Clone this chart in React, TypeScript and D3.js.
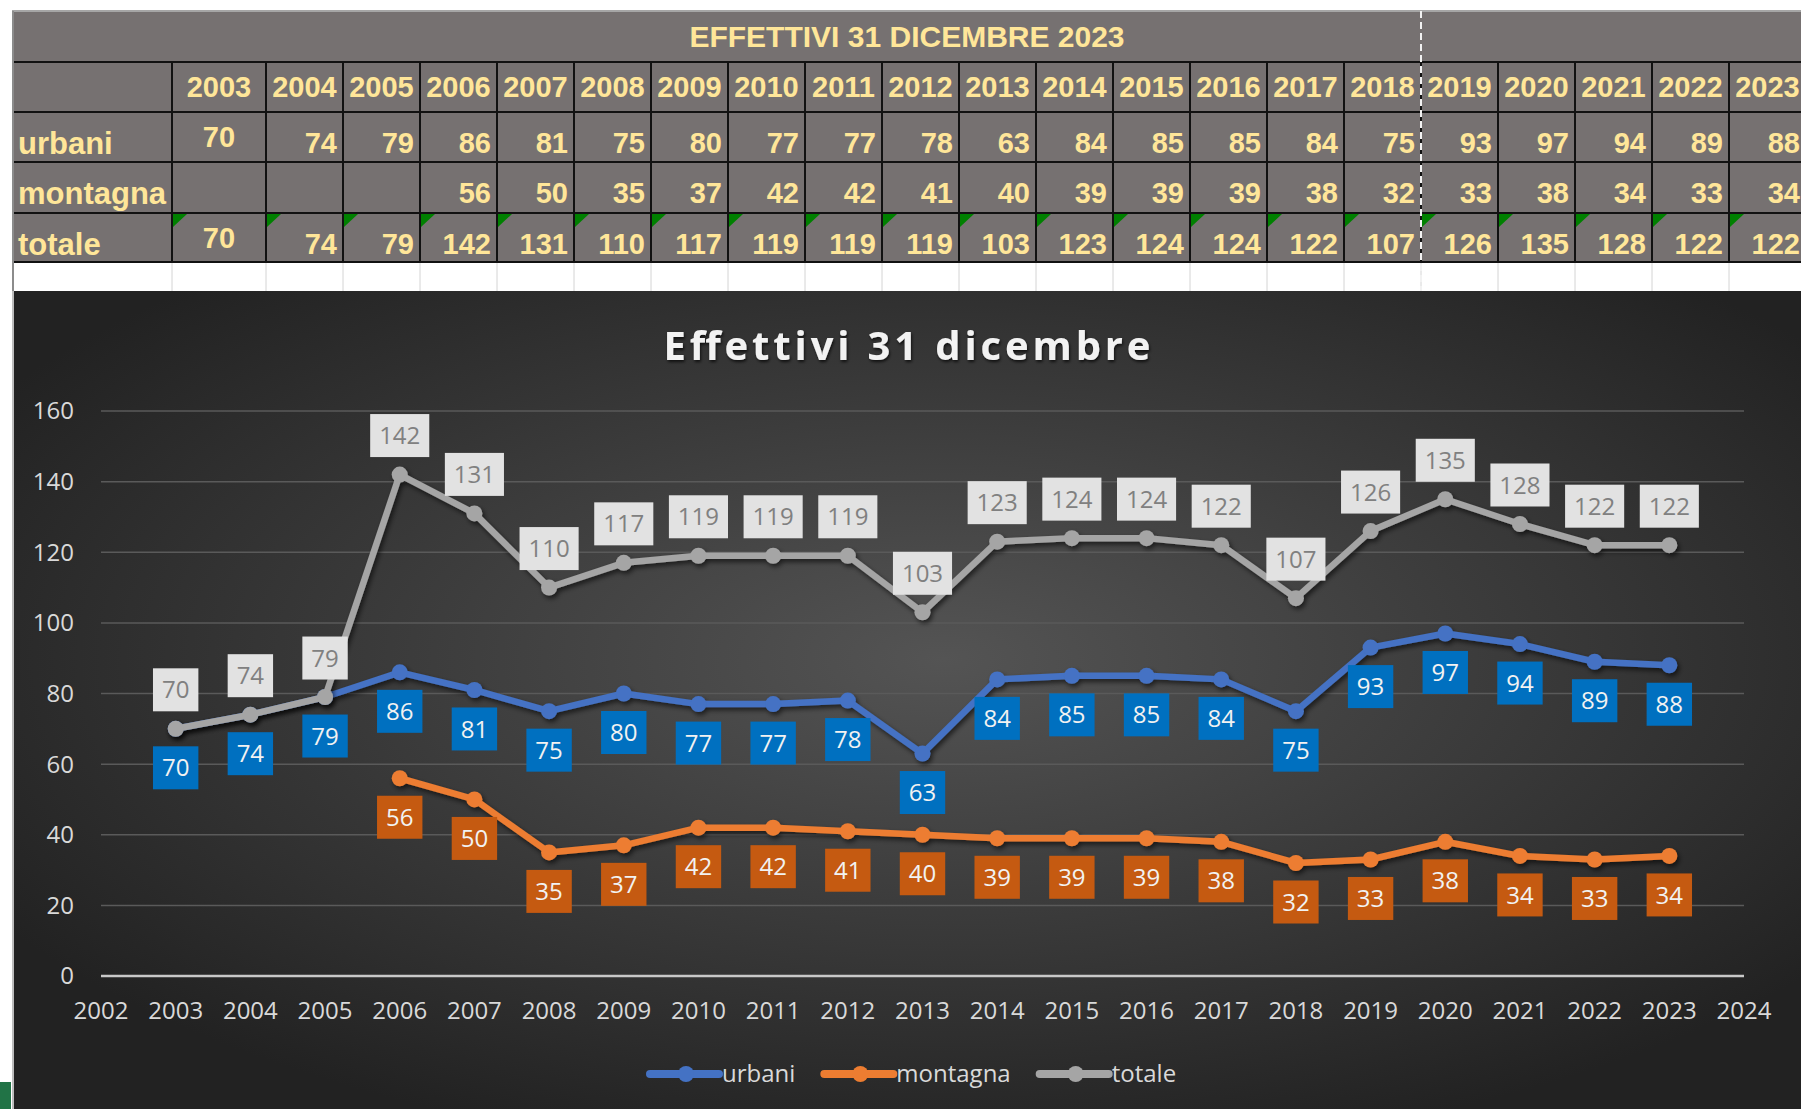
import React, { useEffect, useRef } from 'react'
import * as d3 from 'd3'

// data read from the sheet
const years = [2003, 2004, 2005, 2006, 2007, 2008, 2009, 2010, 2011, 2012, 2013, 2014, 2015, 2016, 2017, 2018, 2019, 2020, 2021, 2022, 2023]
const urbani = [70, 74, 79, 86, 81, 75, 80, 77, 77, 78, 63, 84, 85, 85, 84, 75, 93, 97, 94, 89, 88]
const montagna = [null, null, null, 56, 50, 35, 37, 42, 42, 41, 40, 39, 39, 39, 38, 32, 33, 38, 34, 33, 34]
const totale = [70, 74, 79, 142, 131, 110, 117, 119, 119, 119, 103, 123, 124, 124, 122, 107, 126, 135, 128, 122, 122]
const seriesNames = ['urbani', 'montagna', 'totale']
const yTicks = [0, 20, 40, 60, 80, 100, 120, 140, 160]
const xTicks = d3.range(2002, 2025)
const tableTitle = 'EFFETTIVI 31 DICEMBRE 2023'
const chartTitle = 'Effettivi 31 dicembre'

const lineColors = ['#4472C4', '#ED7D31', '#A5A5A5']
const labelFills = ['#0070C0', '#C55A11', '#E2E2E2']
const labelInk = ['#F2F2F2', '#F2F2F2', '#808080']

export default function App() {
    const ref = useRef<SVGSVGElement>(null)

    useEffect(() => {
        const W = 1801, H = 1109
        const svg = d3.select(ref.current)
        svg.selectAll('*').remove()

        const defs = svg.append('defs')
        const grad = defs.append('radialGradient').attr('id', 'bg')
            .attr('cx', '52%').attr('cy', '45%').attr('r', '62%')
        grad.append('stop').attr('offset', '0%').attr('stop-color', '#545454')
        grad.append('stop').attr('offset', '100%').attr('stop-color', '#222222')
        const sh = defs.append('filter').attr('id', 'shadow')
            .attr('x', '-5%').attr('y', '-20%').attr('width', '110%').attr('height', '140%')
        sh.append('feDropShadow').attr('dx', 2).attr('dy', 3).attr('stdDeviation', 2.5)
            .attr('flood-color', '#000').attr('flood-opacity', 0.6)
        const tsh = defs.append('filter').attr('id', 'tshadow')
        tsh.append('feDropShadow').attr('dx', 1).attr('dy', 2).attr('stdDeviation', 1.5)
            .attr('flood-color', '#000').attr('flood-opacity', 0.7)

        // ---------- spreadsheet table ----------
        const rows = [11, 62, 112, 162, 213, 262, 291]
        const labelLeft = 14
        const colLeft = (i: number) => i === 0 ? 172 : 266 + (i - 1) * 77
        const colRight = (i: number) => i === 0 ? 266 : 266 + i * 77
        const tFont = '"Liberation Sans", Arial, sans-serif'
        const ink = '#FFE699'
        const t = svg.append('g')

        t.append('rect').attr('x', labelLeft).attr('y', rows[0]).attr('width', W - labelLeft).attr('height', rows[5] - rows[0]).attr('fill', '#767171')
        t.append('rect').attr('x', labelLeft).attr('y', rows[5]).attr('width', W - labelLeft).attr('height', rows[6] - rows[5]).attr('fill', '#fff')
        t.append('line').attr('x1', 12).attr('x2', W).attr('y1', rows[0]).attr('y2', rows[0]).attr('stroke', '#a6a6a6').attr('stroke-width', 2)
        t.append('line').attr('x1', 13).attr('x2', 13).attr('y1', rows[0]).attr('y2', rows[6]).attr('stroke', '#8c8c8c').attr('stroke-width', 2)

        // light grid in the empty white row
        years.forEach((_, i) => {
            t.append('line').attr('x1', colLeft(i)).attr('x2', colLeft(i)).attr('y1', rows[5]).attr('y2', rows[6]).attr('stroke', '#d4d4d4')
        })
        // black cell borders
        for (let r = 1; r <= 5; r++) {
            t.append('line').attr('x1', labelLeft).attr('x2', W).attr('y1', rows[r]).attr('y2', rows[r]).attr('stroke', '#111').attr('stroke-width', 2)
        }
        years.forEach((_, i) => {
            t.append('line').attr('x1', colLeft(i)).attr('x2', colLeft(i)).attr('y1', rows[1]).attr('y2', rows[5]).attr('stroke', '#111').attr('stroke-width', 2)
        })

        t.append('text').attr('x', 907).attr('y', 47).attr('text-anchor', 'middle')
            .attr('font-family', tFont).attr('font-weight', 'bold').attr('font-size', 30).attr('fill', ink).text(tableTitle)

        years.forEach((yr, i) => {
            const cx = (colLeft(i) + colRight(i)) / 2
            t.append('text').attr('x', cx).attr('y', 97).attr('text-anchor', 'middle')
                .attr('font-family', tFont).attr('font-weight', 'bold').attr('font-size', 29).attr('fill', ink).text(yr)
            // green error markers on the totale row
            const gx = colLeft(i) + 1, gy = rows[4] + 1
            t.append('path').attr('d', `M${gx},${gy}h14l-14,13z`).attr('fill', '#008000')
        })

        const rowVals = [urbani, montagna, totale]
        const rowBase = [153, 203, 254]
        seriesNames.forEach((name, r) => {
            t.append('text').attr('x', 18).attr('y', rowBase[r] + 1)
                .attr('font-family', tFont).attr('font-weight', 'bold').attr('font-size', 31).attr('fill', ink).text(name)
            rowVals[r].forEach((v, i) => {
                if (v == null) return
                const centred = i === 0
                t.append('text')
                    .attr('x', centred ? (colLeft(i) + colRight(i)) / 2 : colRight(i) - 6)
                    .attr('y', centred ? rowBase[r] - 6 : rowBase[r])
                    .attr('text-anchor', centred ? 'middle' : 'end')
                    .attr('font-family', tFont).attr('font-weight', 'bold').attr('font-size', 29).attr('fill', ink).text(v)
            })
        })

        // page break
        t.append('line').attr('x1', 1421).attr('x2', 1421).attr('y1', rows[0]).attr('y2', rows[6])
            .attr('stroke', '#f2f2f2').attr('stroke-width', 2).attr('stroke-dasharray', '7,4')

        // ---------- chart ----------
        const cTop = 291
        const cFont = '"Open Sans", "Noto Sans", sans-serif'
        const c = svg.append('g')
        c.append('rect').attr('x', 14).attr('y', cTop).attr('width', W - 14).attr('height', H - cTop).attr('fill', 'url(#bg)')
        c.append('line').attr('x1', 13).attr('x2', 13).attr('y1', cTop).attr('y2', H).attr('stroke', '#bdbdbd').attr('stroke-width', 2)
        c.append('rect').attr('x', 0).attr('y', 1082).attr('width', 11).attr('height', H - 1082).attr('fill', '#217346')

        c.append('text').attr('x', 907).attr('y', 360).attr('text-anchor', 'middle')
            .attr('font-family', cFont).attr('font-weight', 'bold').attr('font-size', 40)
            .attr('textLength', 487).attr('lengthAdjust', 'spacing')
            .attr('fill', '#F2F2F2').attr('filter', 'url(#tshadow)').text(chartTitle)

        const x = d3.scaleLinear().domain([2002, 2024]).range([101, 1744])
        const y = d3.scaleLinear().domain([0, 160]).range([976, 411])

        c.append('g').selectAll('line').data(yTicks.filter(d => d > 0)).join('line')
            .attr('x1', x(2002)).attr('x2', x(2024)).attr('y1', d => y(d)).attr('y2', d => y(d))
            .attr('stroke', '#5a5a5a').attr('stroke-width', 1.5)
        c.append('line').attr('x1', x(2002)).attr('x2', x(2024)).attr('y1', y(0)).attr('y2', y(0))
            .attr('stroke', '#c8c8c8').attr('stroke-width', 2.5)

        c.append('g').selectAll('text').data(yTicks).join('text')
            .attr('x', 74).attr('y', d => y(d)).attr('dy', '0.35em').attr('text-anchor', 'end')
            .attr('font-family', cFont).attr('font-size', 24).attr('fill', '#D9D9D9').text(d => d)
        c.append('g').selectAll('text').data(xTicks).join('text')
            .attr('x', d => x(d)).attr('y', 1011).attr('dy', '0.35em').attr('text-anchor', 'middle')
            .attr('font-family', cFont).attr('font-size', 24).attr('fill', '#D9D9D9').text(d => d)

        const series = seriesNames.map((name, k) => ({
            name, k,
            pts: years.map((yr, i) => ({ yr, v: rowVals[k][i] })).filter(p => p.v != null) as { yr: number, v: number }[]
        }))

        const line = d3.line<{ yr: number, v: number }>().x(d => x(d.yr)).y(d => y(d.v))
        series.forEach(s => {
            const g = c.append('g').attr('filter', 'url(#shadow)')
            g.append('path').attr('d', line(s.pts)).attr('fill', 'none')
                .attr('stroke', lineColors[s.k]).attr('stroke-width', 6.5).attr('stroke-linejoin', 'round')
            g.selectAll('circle').data(s.pts).join('circle')
                .attr('cx', d => x(d.yr)).attr('cy', d => y(d.v)).attr('r', 8).attr('fill', lineColors[s.k])
        })

        // data labels: totale above, the others below
        const off = 39, bh = 43
        series.forEach(s => {
            const dir = s.name === 'totale' ? -1 : 1
            const g = c.append('g')
            s.pts.forEach(p => {
                const txt = String(p.v)
                const bw = txt.length * 13.7 + 18
                const cy = y(p.v) + dir * off
                g.append('rect').attr('x', x(p.yr) - bw / 2).attr('y', cy - bh / 2)
                    .attr('width', bw).attr('height', bh).attr('fill', labelFills[s.k])
                g.append('text').attr('x', x(p.yr)).attr('y', cy).attr('dy', '0.36em').attr('text-anchor', 'middle')
                    .attr('font-family', cFont).attr('font-size', 24).attr('fill', labelInk[s.k]).text(txt)
            })
        })

        // legend
        const lg = c.append('g')
        let lx = 650
        const ly = 1074
        seriesNames.forEach((name, k) => {
            lg.append('line').attr('x1', lx).attr('x2', lx + 69).attr('y1', ly).attr('y2', ly)
                .attr('stroke', lineColors[k]).attr('stroke-width', 8).attr('stroke-linecap', 'round')
            lg.append('circle').attr('cx', lx + 36).attr('cy', ly).attr('r', 8).attr('fill', lineColors[k])
            const tx = lg.append('text').attr('x', lx + 72).attr('y', ly).attr('dy', '0.35em')
                .attr('font-family', cFont).attr('font-size', 24).attr('fill', '#D9D9D9').text(name)
            const tw = (tx.node() as SVGTextElement).getComputedTextLength()
            lx += 72 + tw + 29
        })
    }, [])

    return (
        <svg ref={ref} width={1801} height={1109}
            style={{ position: 'absolute', left: 0, top: 0, background: '#fff', display: 'block' }} />
    )
}
